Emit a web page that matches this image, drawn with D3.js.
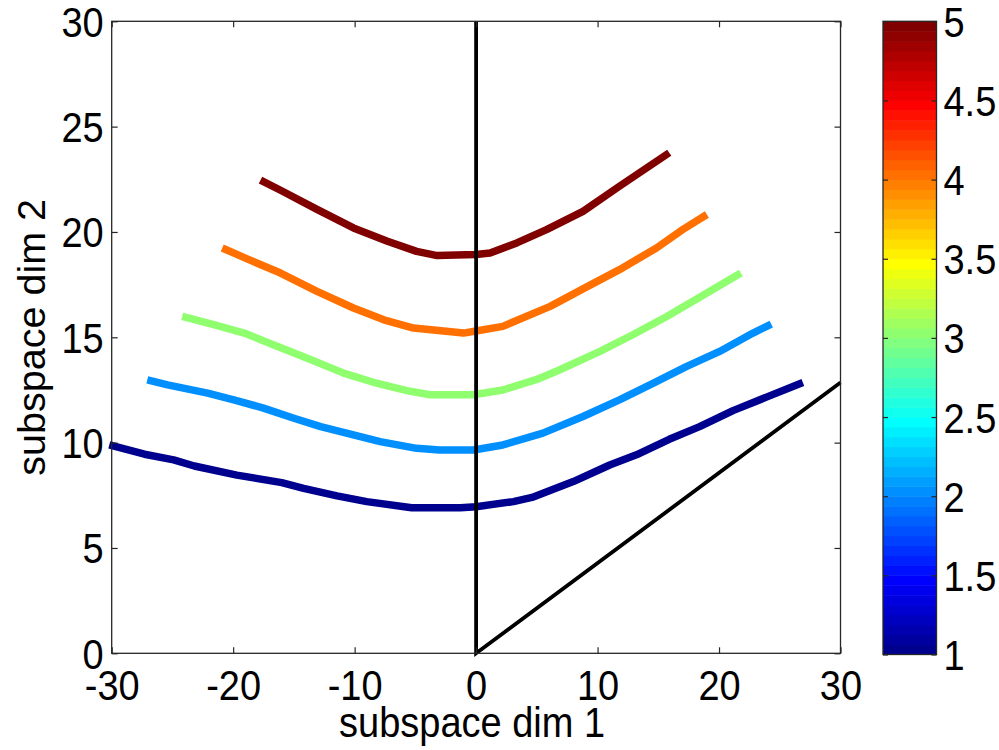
<!DOCTYPE html>
<html>
<head>
<meta charset="utf-8">
<script src="https://cdn.jsdelivr.net/npm/d3@7"></script>
<style>
  body { margin: 0; background: #fff; }
  text { font-family: "Liberation Sans", Arial, Helvetica, sans-serif; fill: #000; }
</style>
</head>
<body>
<svg id="chart" width="999" height="750"></svg>
<script>
// ---- data ---------------------------------------------------------------
// colour level of each contour-like curve (mapped through the jet colormap)
const levels = [1, 2, 3, 4, 5];

const curve1X = [-30.2, -27.3, -24.9, -23.2, -19.7, -16.0, -14.2, -11.45, -9.0, -5.3, -1.3, 0.0, 3.07, 4.6, 8.0, 11.0, 13.2, 15.9, 18.4, 21.15, 23.9, 26.9];
const curve1Y = [9.89, 9.45, 9.18, 8.89, 8.46, 8.10, 7.83, 7.47, 7.2, 6.91, 6.91, 6.96, 7.2, 7.4, 8.15, 8.94, 9.42, 10.16, 10.76, 11.52, 12.16, 12.85];

const curve2X = [-27.07, -25.4, -22.1, -19.95, -17.5, -15.0, -12.8, -10.1, -7.9, -4.9, -3.0, -0.2, 2.2, 5.5, 8.8, 11.8, 14.6, 17.3, 20.05, 22.8, 24.3];
const curve2Y = [12.98, 12.74, 12.35, 12.03, 11.64, 11.16, 10.76, 10.37, 10.05, 9.73, 9.65, 9.65, 9.89, 10.45, 11.24, 12.03, 12.82, 13.61, 14.33, 15.2, 15.63];

const curve3X = [-24.2, -21.6, -19.1, -16.7, -13.9, -10.9, -8.2, -5.7, -3.8, -0.2, 2.2, 5.0, 6.9, 10.2, 12.9, 15.7, 19.0, 21.8];
const curve3Y = [15.99, 15.6, 15.2, 14.65, 14.01, 13.3, 12.82, 12.47, 12.27, 12.27, 12.5, 13.0, 13.46, 14.33, 15.12, 15.99, 17.1, 18.05];

const curve4X = [-20.9, -18.85, -16.1, -13.1, -10.1, -7.6, -5.15, -1.04, 0.0, 2.2, 6.1, 8.8, 11.8, 14.85, 17.0, 19.0];
const curve4Y = [19.24, 18.72, 18.05, 17.18, 16.39, 15.83, 15.44, 15.2, 15.3, 15.52, 16.47, 17.3, 18.21, 19.24, 20.11, 20.83];

const curve5X = [-17.75, -16.1, -13.1, -10.1, -7.3, -4.9, -3.2, 0.0, 1.15, 3.35, 5.8, 8.8, 11.8, 15.9];
const curve5Y = [22.46, 21.98, 21.07, 20.19, 19.56, 19.08, 18.88, 18.93, 19.0, 19.48, 20.11, 20.98, 22.17, 23.76];

// black boundary: vertical axis of symmetry and the lower wedge edge
const boundaryX = [0, 0, 30];
const boundaryY = [30, 0, 12.85];

const xTicks = [-30, -20, -10, 0, 10, 20, 30];
const yTicks = [0, 5, 10, 15, 20, 25, 30];
const cTicks = [1, 1.5, 2, 2.5, 3, 3.5, 4, 4.5, 5];
const cDomain = [1, 5];

const xTitle = "subspace dim 1";
const yTitle = "subspace dim 2";

// ---- jet colormap (64 entries) ------------------------------------------
const N_COLORS = 64;
function jetRow(i) {            // i is 1-based
  const u = k => (k < 1 || k > 47) ? 0 : (k <= 16 ? k / 16 : (k <= 31 ? 1 : (48 - k) / 16));
  const r = u(i - 24), g = u(i - 8), b = u(i + 8);
  return d3.rgb(Math.round(r * 255), Math.round(g * 255), Math.round(b * 255)).formatHex();
}
const jet = d3.range(1, N_COLORS + 1).map(jetRow);
function colourFor(v) {
  const idx = Math.min(N_COLORS, Math.floor((v - cDomain[0]) / (cDomain[1] - cDomain[0]) * N_COLORS) + 1);
  return jet[idx - 1];
}

// ---- layout -------------------------------------------------------------
const svg = d3.select("#chart");
svg.append("rect").attr("width", 999).attr("height", 750).attr("fill", "#fff");

const plot = { left: 111.7, right: 840.5, top: 21.3, bottom: 653.3 };
const bar = { left: 883, right: 936.5, top: 21.3, bottom: 654.5 };

const x = d3.scaleLinear().domain([-30, 30]).range([plot.left, plot.right]);
const y = d3.scaleLinear().domain([0, 30]).range([plot.bottom, plot.top]);
const c = d3.scaleLinear().domain(cDomain).range([bar.bottom, bar.top]);

const FONT = 38;
const STRETCH = "scale(1,1.1)";
const AXIS_COLOR = "#262626";

function styleAxis(g, labelShift) {
  g.attr("font-size", null).attr("font-family", null);
  g.select(".domain").remove();
  g.selectAll(".tick line").attr("stroke", AXIS_COLOR).attr("stroke-width", 1.2);
  g.selectAll(".tick text")
    .attr("y", null).attr("dy", null)
    .attr("font-size", FONT)
    .attr("fill", "#000")
    .attr("transform", `translate(0,${labelShift}) ${STRETCH}`);
}

// ---- curves -------------------------------------------------------------
const curves = [
  { level: levels[0], xs: curve1X, ys: curve1Y },
  { level: levels[1], xs: curve2X, ys: curve2Y },
  { level: levels[2], xs: curve3X, ys: curve3Y },
  { level: levels[3], xs: curve4X, ys: curve4Y },
  { level: levels[4], xs: curve5X, ys: curve5Y }
];

const line = d3.line().x(d => x(d[0])).y(d => y(d[1]));

svg.append("g").selectAll("path")
  .data(curves)
  .join("path")
  .attr("d", d => line(d.xs.map((v, i) => [v, d.ys[i]])))
  .attr("fill", "none")
  .attr("stroke", d => colourFor(d.level))
  .attr("stroke-width", 7.5)
  .attr("stroke-linecap", "butt")
  .attr("stroke-linejoin", "round");

svg.append("path")
  .attr("d", line(boundaryX.map((v, i) => [v, boundaryY[i]])))
  .attr("fill", "none")
  .attr("stroke", "#000")
  .attr("stroke-width", 3.8)
  .attr("stroke-linejoin", "miter");

// ---- axes ---------------------------------------------------------------
const fmt = d => String(d);

svg.append("g")
  .attr("transform", `translate(0,${plot.bottom})`)
  .call(d3.axisBottom(x).tickValues(xTicks).tickSizeInner(-6).tickSizeOuter(0).tickFormat(fmt))
  .call(g => styleAxis(g, 46.7));

svg.append("g")
  .attr("transform", `translate(0,${plot.top})`)
  .call(d3.axisTop(x).tickValues(xTicks).tickSizeInner(-6).tickSizeOuter(0).tickFormat(""))
  .call(g => styleAxis(g, 0));

svg.append("g")
  .attr("transform", `translate(${plot.left},0)`)
  .call(d3.axisLeft(y).tickValues(yTicks).tickSizeInner(-6).tickSizeOuter(0).tickPadding(8).tickFormat(fmt))
  .call(g => styleAxis(g, 15));

svg.append("g")
  .attr("transform", `translate(${plot.right},0)`)
  .call(d3.axisRight(y).tickValues(yTicks).tickSizeInner(-6).tickSizeOuter(0).tickFormat(""))
  .call(g => styleAxis(g, 0));

svg.append("rect")
  .attr("x", plot.left).attr("y", plot.top)
  .attr("width", plot.right - plot.left).attr("height", plot.bottom - plot.top)
  .attr("fill", "none").attr("stroke", AXIS_COLOR).attr("stroke-width", 1.3);

// axis titles
svg.append("text")
  .attr("transform", `translate(${(plot.left + plot.right) / 2 - 4},737) ${STRETCH}`)
  .attr("text-anchor", "middle")
  .attr("font-size", FONT)
  .text(xTitle);

svg.append("text")
  .attr("transform", `translate(45,${(plot.top + plot.bottom) / 2}) rotate(-90) scale(1.04,1)`)
  .attr("text-anchor", "middle")
  .attr("font-size", FONT)
  .text(yTitle);

// ---- colorbar -----------------------------------------------------------
const steps = d3.range(N_COLORS);
const stepSize = (cDomain[1] - cDomain[0]) / N_COLORS;
svg.append("g").selectAll("rect")
  .data(steps)
  .join("rect")
  .attr("x", bar.left)
  .attr("width", bar.right - bar.left)
  .attr("y", i => c(cDomain[0] + (i + 1) * stepSize))
  .attr("height", i => c(cDomain[0] + i * stepSize) - c(cDomain[0] + (i + 1) * stepSize) + 0.5)
  .attr("fill", i => jet[i]);

svg.append("g")
  .attr("transform", `translate(${bar.right},0)`)
  .call(d3.axisRight(c).tickValues(cTicks).tickSizeInner(-5).tickSizeOuter(0).tickPadding(7).tickFormat(fmt))
  .call(g => styleAxis(g, 15));

svg.append("g")
  .attr("transform", `translate(${bar.left},0)`)
  .call(d3.axisLeft(c).tickValues(cTicks).tickSizeInner(-5).tickSizeOuter(0).tickFormat(""))
  .call(g => styleAxis(g, 0));

svg.append("rect")
  .attr("x", bar.left).attr("y", bar.top)
  .attr("width", bar.right - bar.left).attr("height", bar.bottom - bar.top)
  .attr("fill", "none").attr("stroke", AXIS_COLOR).attr("stroke-width", 1.3);
</script>
</body>
</html>
